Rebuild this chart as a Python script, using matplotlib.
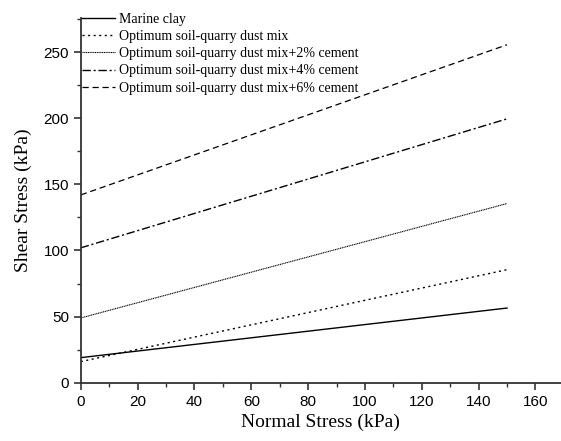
import numpy as np
import matplotlib.pyplot as plt
from matplotlib.ticker import MultipleLocator

# Mohr-Coulomb failure envelopes: intercept (cohesion) and value at 150 kPa
labels = ['Marine clay',
          'Optimum soil-quarry dust mix',
          'Optimum soil-quarry dust mix+2% cement',
          'Optimum soil-quarry dust mix+4% cement',
          'Optimum soil-quarry dust mix+6% cement']
normal_stress = [0, 150]
shear_at_0 = [19, 16, 49, 102, 142]
shear_at_150 = [56.5, 85.5, 135.5, 199.5, 255.5]
styles = ['-', (0, (1.5, 2.5)), (0, (1, 0.6)), (0, (6, 2, 1.5, 2)), (0, (5, 3))]
widths = [1.0, 1.0, 0.8, 1.0, 0.9]

fig = plt.figure(figsize=(5.61, 4.41), dpi=100)
ax = fig.add_axes([0.144, 0.132, 0.856, 0.828])

for i in range(len(labels)):
    ax.plot(normal_stress, [shear_at_0[i], shear_at_150[i]], color='black',
            linestyle=styles[i], linewidth=widths[i], label=labels[i])

ax.set_xlim(0, 169)
ax.set_ylim(0, 276)
ax.xaxis.set_major_locator(MultipleLocator(20))
ax.xaxis.set_minor_locator(MultipleLocator(10))
ax.yaxis.set_major_locator(MultipleLocator(50))
ax.yaxis.set_minor_locator(MultipleLocator(25))
ax.spines['top'].set_visible(False)
ax.spines['right'].set_visible(False)
for s in ['left', 'bottom']:
    ax.spines[s].set_linewidth(1.3)
    ax.spines[s].set_color('#333333')
ax.tick_params(which='major', direction='out', length=5, width=1.2, color='#333333')
ax.tick_params(which='minor', direction='out', length=3, width=1.0, color='#333333')
for lab in ax.get_xticklabels() + ax.get_yticklabels():
    lab.set_family('Liberation Sans')
    lab.set_fontsize(11)

ax.set_xlabel('Normal Stress (kPa)', family='Liberation Serif', fontsize=14, labelpad=4)
ax.set_ylabel('Shear Stress (kPa)', family='Liberation Serif', fontsize=14, labelpad=8)

ax.legend(loc='upper left', bbox_to_anchor=(0.002, 1.013), frameon=False,
          prop={'family': 'Liberation Serif', 'size': 10}, handlelength=2.4,
          handletextpad=0.25, labelspacing=0.3, borderaxespad=0, borderpad=0)

plt.savefig('out.png', dpi=100)
